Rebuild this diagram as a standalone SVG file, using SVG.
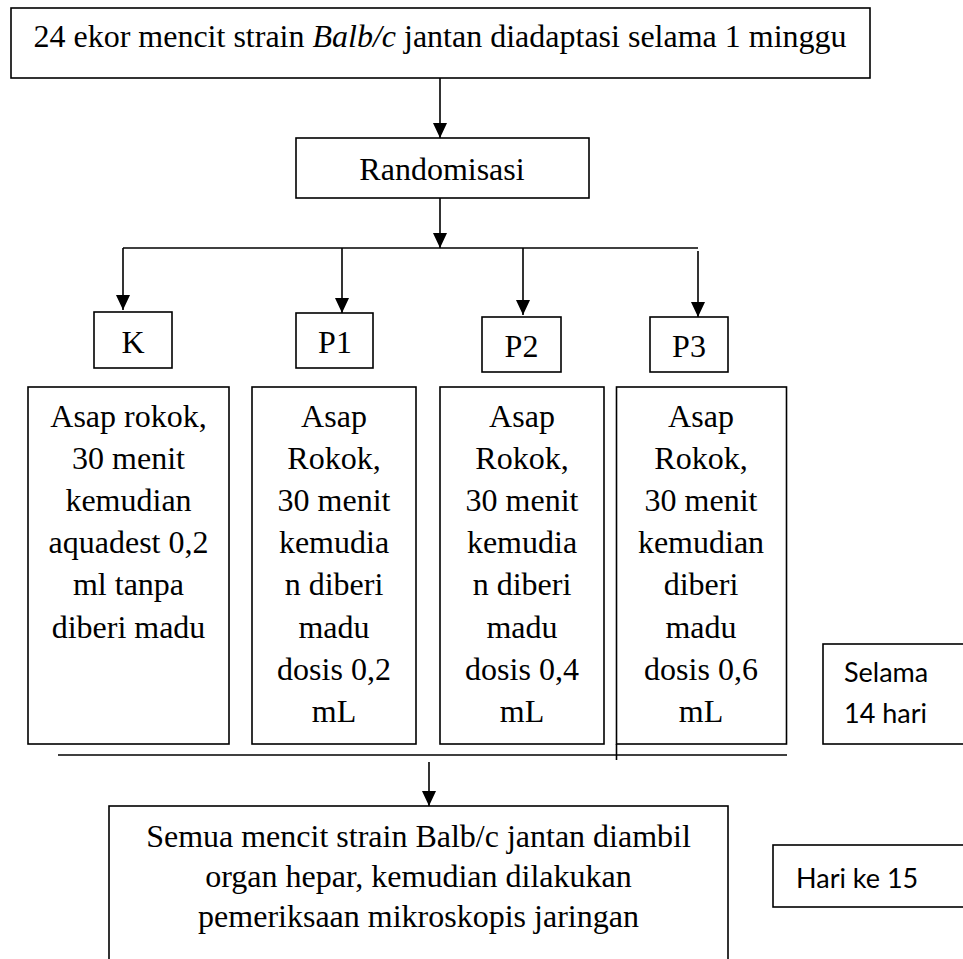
<svg xmlns="http://www.w3.org/2000/svg" width="963" height="959" viewBox="0 0 963 959">
<defs>
<style>
.box{fill:#fff;stroke:#000;stroke-width:1.6}
.t{font-family:"Liberation Serif","Times New Roman",serif;font-size:32px;fill:#000;text-anchor:middle}
.s{font-family:Lato,"Open Sans",sans-serif;font-size:27px;fill:#000}
.c{stroke:#000;stroke-width:1.6;fill:none}
</style>
<marker id="ah" viewBox="0 0 15 14" refX="15" refY="7" markerWidth="15" markerHeight="14" markerUnits="userSpaceOnUse" orient="auto">
<path d="M0,0 L15,7 L0,14 z" fill="#000"/>
</marker>
</defs>
<rect width="963" height="959" fill="#fff"/>
<g id="connectors">
<line class="c" x1="440" y1="78" x2="440" y2="138" marker-end="url(#ah)"/>
<line class="c" x1="440" y1="198" x2="440" y2="248" marker-end="url(#ah)"/>
<line class="c" x1="123" y1="248" x2="698" y2="248"/>
<line class="c" x1="123" y1="248" x2="123" y2="310" marker-end="url(#ah)"/>
<line class="c" x1="342" y1="248" x2="342" y2="313" marker-end="url(#ah)"/>
<line class="c" x1="523" y1="248" x2="523" y2="315" marker-end="url(#ah)"/>
<line class="c" x1="698" y1="251" x2="698" y2="317" marker-end="url(#ah)"/>
<line class="c" x1="58" y1="755" x2="787" y2="755"/>
<line class="c" x1="616.5" y1="744" x2="616.5" y2="760"/>
<line class="c" x1="429" y1="762" x2="429" y2="806" marker-end="url(#ah)"/>
</g>
<g id="start">
<rect class="box" x="11" y="8" width="859" height="70"/>
<text class="t" x="440" y="47">24 ekor mencit strain <tspan font-style="italic">Balb/c</tspan> jantan diadaptasi selama 1 minggu</text>
</g>
<g id="randomisasi">
<rect class="box" x="296" y="138" width="293" height="60"/>
<text class="t" x="442" y="180">Randomisasi</text>
</g>
<g id="k">
<rect class="box" x="94" y="312" width="78" height="56"/>
<text class="t" x="133" y="353">K</text>
</g>
<g id="p1">
<rect class="box" x="296" y="313" width="77" height="55"/>
<text class="t" x="335" y="353">P1</text>
</g>
<g id="p2">
<rect class="box" x="482" y="317" width="79" height="55"/>
<text class="t" x="521.5" y="357">P2</text>
</g>
<g id="p3">
<rect class="box" x="650" y="317" width="78" height="55"/>
<text class="t" x="689" y="357">P3</text>
</g>
<g id="k-body">
<rect class="box" x="28" y="387" width="201" height="357"/>
<text class="t"><tspan x="128.5" y="427">Asap rokok,</tspan><tspan x="128.5" y="469">30 menit</tspan><tspan x="128.5" y="511">kemudian</tspan><tspan x="128.5" y="553">aquadest 0,2</tspan><tspan x="128.5" y="595">ml tanpa</tspan><tspan x="128.5" y="638">diberi madu</tspan></text>
</g>
<g id="p1-body">
<rect class="box" x="252" y="387" width="164" height="357"/>
<text class="t"><tspan x="334" y="427">Asap</tspan><tspan x="334" y="469">Rokok,</tspan><tspan x="334" y="511">30 menit</tspan><tspan x="334" y="553">kemudia</tspan><tspan x="334" y="595">n diberi</tspan><tspan x="334" y="638">madu</tspan><tspan x="334" y="680">dosis 0,2</tspan><tspan x="334" y="722">mL</tspan></text>
</g>
<g id="p2-body">
<rect class="box" x="440" y="387" width="164" height="357"/>
<text class="t"><tspan x="522" y="427">Asap</tspan><tspan x="522" y="469">Rokok,</tspan><tspan x="522" y="511">30 menit</tspan><tspan x="522" y="553">kemudia</tspan><tspan x="522" y="595">n diberi</tspan><tspan x="522" y="638">madu</tspan><tspan x="522" y="680">dosis 0,4</tspan><tspan x="522" y="722">mL</tspan></text>
</g>
<g id="p3-body">
<rect class="box" x="616.5" y="387" width="170" height="357"/>
<text class="t"><tspan x="701" y="427">Asap</tspan><tspan x="701" y="469">Rokok,</tspan><tspan x="701" y="511">30 menit</tspan><tspan x="701" y="553">kemudian</tspan><tspan x="701" y="595">diberi</tspan><tspan x="701" y="638">madu</tspan><tspan x="701" y="680">dosis 0,6</tspan><tspan x="701" y="722">mL</tspan></text>
</g>
<g id="selama">
<rect class="box" x="823" y="644" width="150" height="100"/>
<text class="s"><tspan x="844" y="682">Selama</tspan><tspan x="844" y="723">14 hari</tspan></text>
</g>
<g id="end">
<rect class="box" x="109" y="806" width="619" height="170"/>
<text class="t"><tspan x="418.5" y="847">Semua mencit strain Balb/c jantan diambil</tspan><tspan x="418.5" y="887">organ hepar, kemudian dilakukan</tspan><tspan x="418.5" y="927">pemeriksaan mikroskopis jaringan</tspan></text>
</g>
<g id="hari15">
<rect class="box" x="773" y="845" width="200" height="62"/>
<text class="s" x="796" y="888">Hari ke 15</text>
</g>
</svg>
